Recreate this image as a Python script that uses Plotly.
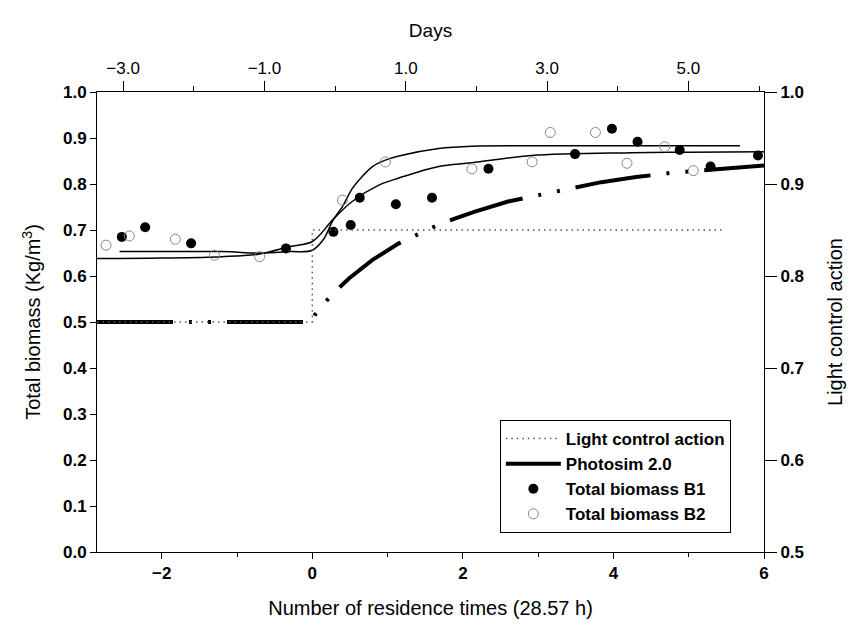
import plotly.graph_objects as go

# ---------------- data (residence times, biomass Kg/m3) ----------------
X_RANGE = [-2.86, 6.0]          # residence times (bottom axis)
DAYS_RANGE = [-3.37, 6.07]      # days (top axis, as printed in the original)

# Light control action (right axis)
t_light = [-2.86, 0.0, 0.0, 5.45]
v_light = [0.75, 0.75, 0.85, 0.85]

# Photosim 2.0 model
t_photo = [-2.86, -1.0, 0.0, 0.04, 0.25, 0.49, 0.8, 1.15, 1.46, 1.68, 1.93, 2.16,
           2.6, 3.14, 3.36, 3.6, 3.84, 4.3, 4.81, 5.2, 5.52, 6.0]
v_photo = [0.5, 0.5, 0.5, 0.517, 0.558, 0.595, 0.635, 0.671, 0.696, 0.712, 0.727, 0.740,
           0.762, 0.781, 0.789, 0.796, 0.804, 0.815, 0.825, 0.830, 0.834, 0.840]

# thin trend curves (no legend entry)
t_curve1 = [-2.86, -2.0, -1.2, -0.7, -0.3, 0.0, 0.27, 0.53, 0.89, 1.15, 1.68, 2.12,
            2.91, 4.24, 5.0, 6.0]
v_curve1 = [0.638, 0.639, 0.642, 0.648, 0.664, 0.675, 0.722, 0.762, 0.798, 0.813, 0.838,
            0.846, 0.862, 0.868, 0.869, 0.870]
t_curve2 = [-2.56, -1.2, -0.7, -0.3, 0.0, 0.15, 0.27, 0.40, 0.53, 0.66, 0.8, 0.97,
            1.15, 1.68, 2.12, 3.0, 4.5, 5.68]
v_curve2 = [0.653, 0.653, 0.650, 0.653, 0.656, 0.680, 0.720, 0.751, 0.790, 0.816, 0.838,
            0.852, 0.861, 0.877, 0.882, 0.883, 0.883, 0.883]

# Total biomass B1 (filled)
t_b1 = [-2.53, -2.22, -1.61, -0.35, 0.28, 0.51, 0.63, 1.11, 1.59, 2.34, 3.49, 3.98,
        4.32, 4.88, 5.29, 5.92]
v_b1 = [0.685, 0.706, 0.671, 0.660, 0.696, 0.711, 0.770, 0.756, 0.770, 0.833, 0.865,
        0.920, 0.892, 0.874, 0.838, 0.862]

# Total biomass B2 (open)
t_b2 = [-2.74, -2.43, -1.82, -1.30, -0.70, 0.40, 0.97, 2.12, 2.92, 3.16, 3.76, 4.18,
        4.68, 5.06]
v_b2 = [0.667, 0.687, 0.680, 0.645, 0.642, 0.765, 0.848, 0.833, 0.848, 0.912, 0.912,
        0.845, 0.881, 0.829]

bottom_ticks = [-2, 0, 2, 4, 6]
top_ticks = [-3, -1, 1, 3, 5]
top_minor = [-2, 0, 2, 4, 6]

FONT = "Liberation Sans"

fig = go.Figure()

fig.add_trace(go.Scatter(x=t_curve1, y=v_curve1, mode="lines", showlegend=False,
                         line=dict(color="black", width=1.5, shape="spline")))
fig.add_trace(go.Scatter(x=t_curve2, y=v_curve2, mode="lines", showlegend=False,
                         line=dict(color="black", width=1.5, shape="spline")))

fig.add_trace(go.Scatter(x=t_light, y=v_light, yaxis="y2", mode="lines",
                         name="Light control action",
                         line=dict(color="#555555", width=1.5, dash="1.5px,4px")))
fig.add_trace(go.Scatter(x=t_photo, y=v_photo, mode="lines", name="Photosim 2.0",
                         line=dict(color="black", width=4,
                                   dash="76px,16px,3px,16px,3px,16px")))
fig.add_trace(go.Scatter(x=t_b1, y=v_b1, mode="markers", name="Total biomass B1",
                         marker=dict(symbol="circle", size=10, color="black")))
fig.add_trace(go.Scatter(x=t_b2, y=v_b2, mode="markers", name="Total biomass B2",
                         marker=dict(symbol="circle-open", size=10, color="#888888",
                                     line=dict(width=1, color="#888888"))))
# invisible carrier so the top (days) axis is drawn
fig.add_trace(go.Scatter(x=DAYS_RANGE, y=[None, None], xaxis="x2", mode="lines",
                         showlegend=False, hoverinfo="skip"))

axis_common = dict(showline=True, linecolor="black", linewidth=1, showgrid=False,
                   zeroline=False, ticks="outside", tickcolor="black")

fig.update_layout(
    width=854, height=633,
    margin=dict(l=97, r=88, t=92, b=81),
    paper_bgcolor="white", plot_bgcolor="white",
    font=dict(family=FONT, color="black", size=16),
    xaxis=dict(range=X_RANGE, tickvals=bottom_ticks, ticklen=6,
               minor=dict(ticks="outside", ticklen=4, dtick=1, tickcolor="black"),
               tickfont=dict(size=17, weight="bold"),
               title=dict(text="Number of residence times (28.57 h)",
                          font=dict(size=20), standoff=18),
               **axis_common),
    xaxis2=dict(range=DAYS_RANGE,
                overlaying="x", side="top", anchor="y",
                tickvals=top_ticks, tickformat=".1f", ticklen=10,
                minor=dict(ticks="outside", ticklen=5, tickvals=top_minor,
                           tickcolor="black"),
                tickfont=dict(size=17),
                title=dict(text="Days", font=dict(size=19), standoff=16),
                **axis_common),
    yaxis=dict(range=[0, 1.0], dtick=0.1, tickformat=".1f", ticklen=6,
               tickfont=dict(size=17, weight="bold"),
               title=dict(text="Total biomass (Kg/m<sup>3</sup>)",
                          font=dict(size=20), standoff=16),
               **axis_common),
    yaxis2=dict(range=[0.5, 1.0], dtick=0.1, tickformat=".1f", ticklen=12,
                overlaying="y", side="right", anchor="x",
                tickfont=dict(size=17, weight="bold"),
                title=dict(text="Light control action", font=dict(size=20), standoff=24),
                **axis_common),
    legend=dict(x=0.604, y=0.287, xanchor="left", yanchor="top",
                bgcolor="white", bordercolor="black", borderwidth=1,
                font=dict(size=17, weight="bold"), itemwidth=55,
                tracegroupgap=0),
    showlegend=True,
)

fig.write_html("out.html")
